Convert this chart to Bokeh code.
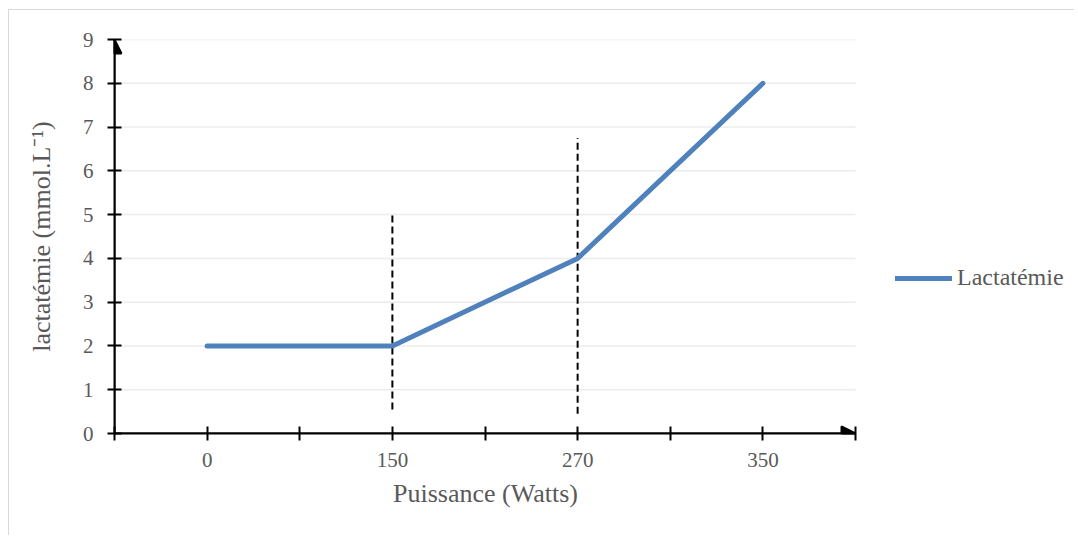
from bokeh.plotting import figure
from bokeh.models import (FixedTicker, Range1d, Legend, LegendItem, Arrow, NormalHead, Title)
from bokeh.embed import file_html
from bokeh.resources import INLINE

# ---- data ----
categories = ["0", "150", "270", "350"]
lactatemie = [2, 2, 4, 8]
threshold_categories = ["150", "270"]
threshold_bottom = [0.55, 0.45]
threshold_top = [5.05, 6.75]
y_ticks = [0, 1, 2, 3, 4, 5, 6, 7, 8, 9]
x_title = "Puissance (Watts)"
y_title = "lactatémie (mmol.L⁻¹)"
series_name = "Lactatémie"

FONT = "Liberation Serif"
TXT = "#595959"

xs = list(range(len(categories)))
x_start, x_end = -0.5, len(categories) - 0.5
y_start, y_end = y_ticks[0], y_ticks[-1]

# layout (pixels)
W, H = 1066, 526
ML, MR, MT, MB = 105, 6, 29, 103
AXIS_PX = 741                      # pixel length of the drawn x axis
X_TITLE_HALF_W = 92                # approx. half width of the x title text
frame_w = W - ML - MR
x_view_end = x_start + (x_end - x_start) * frame_w / AXIS_PX

p = figure(width=W, height=H, output_backend="svg", toolbar_location=None,
           x_range=Range1d(x_start, x_view_end), y_range=Range1d(y_start, y_end),
           min_border_left=ML, min_border_top=MT, min_border_bottom=MB,
           min_border_right=MR)
p.margin = (9, 0, 0, 8)
p.styles = {"border-top": "1px solid #d9d9d9", "border-left": "1px solid #d9d9d9"}
p.outline_line_color = None
p.background_fill_color = "white"
p.border_fill_color = "white"

# grid (drawn only over the axis extent)
p.xgrid.grid_line_color = None
p.ygrid.grid_line_color = None
p.segment(x0=[x_start] * len(y_ticks), y0=y_ticks, x1=[x_end] * len(y_ticks), y1=y_ticks,
          line_color="#ececec", line_width=1.5)

# x axis
half_ticks = [x_start + 0.5 * i for i in range(int((x_end - x_start) * 2) + 1)]
p.xaxis.ticker = FixedTicker(ticks=half_ticks)
p.xaxis.bounds = (x_start, x_end)
overrides = {}
for t in half_ticks:
    overrides[t] = categories[int(t)] if (t == int(t) and 0 <= t < len(categories)) else ""
p.xaxis.major_label_overrides = overrides

# y axis
p.yaxis.ticker = FixedTicker(ticks=y_ticks)
p.yaxis.axis_label = y_title

for ax in (p.xaxis[0], p.yaxis[0]):
    ax.axis_line_color = "black"
    ax.axis_line_width = 2
    ax.major_tick_line_color = "black"
    ax.major_tick_line_width = 2
    ax.major_tick_in = 7
    ax.major_tick_out = 7
    ax.minor_tick_line_color = None
    ax.major_label_text_font = FONT
    ax.major_label_text_font_size = "21px"
    ax.major_label_text_color = TXT
    ax.axis_label_text_font = FONT
    ax.axis_label_text_font_size = "26px"
    ax.axis_label_text_font_style = "normal"
    ax.axis_label_text_color = TXT

p.xaxis.major_label_standoff = 12
p.yaxis.major_label_standoff = 14
p.yaxis.axis_label_standoff = 24

# x-axis title, centred under the drawn axis
p.add_layout(Title(text=x_title, align="left", offset=AXIS_PX / 2 - X_TITLE_HALF_W,
                   text_font=FONT, text_font_size="26px", text_font_style="normal",
                   text_color=TXT, standoff=14), "below")

# axis arrows
p.add_layout(Arrow(end=NormalHead(size=14, fill_color="black", line_color="black", line_width=2),
                   x_start=x_start, y_start=y_start, x_end=x_start, y_end=y_end,
                   line_color="black", line_width=2))
p.add_layout(Arrow(end=NormalHead(size=14, fill_color="black", line_color="black", line_width=2),
                   x_start=x_start, y_start=y_start, x_end=x_end, y_end=y_start,
                   line_color="black", line_width=2))

# threshold dashed lines
tx = [categories.index(c) for c in threshold_categories]
p.segment(x0=tx, y0=threshold_bottom, x1=tx, y1=threshold_top,
          line_color="black", line_width=2, line_dash="7 4")

# series
r = p.line(xs, lactatemie, line_color="#4f81bd", line_width=5,
           line_cap="round", line_join="round")

legend = Legend(items=[LegendItem(label=series_name, renderers=[r])],
                location=(AXIS_PX + 40, 142), orientation="vertical",
                glyph_width=57, glyph_height=20, label_standoff=5,
                label_text_font=FONT, label_text_font_size="24px",
                label_text_color=TXT, padding=0, margin=0, spacing=0,
                border_line_alpha=0, background_fill_alpha=0)
p.add_layout(legend, "center")

open("out.html", "w").write(file_html(p, INLINE))
